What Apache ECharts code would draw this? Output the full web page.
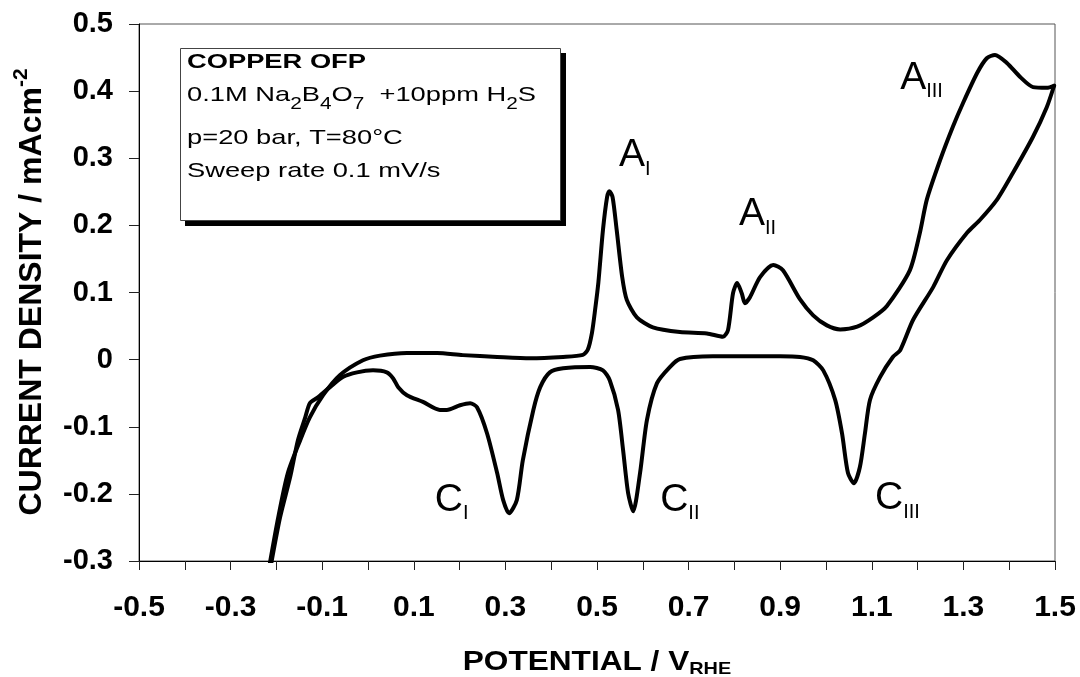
<!DOCTYPE html>
<html>
<head>
<meta charset="utf-8">
<script src="https://cdn.jsdelivr.net/npm/echarts@6/dist/echarts.min.js"></script>
<style>
  html, body { margin: 0; padding: 0; background: #fff; }
  #chart { width: 1080px; height: 677px; }
</style>
</head>
<body>
<div id="chart"></div>
<script>
// Cyclic voltammogram of OFP copper: potential (V vs RHE) and current density (mA/cm²)
// Forward (anodic) sweep
const anodicPotential = [-0.216, -0.196, -0.175, -0.148, -0.127, -0.098, -0.061, -0.011, 0.026, 0.085,
  0.151, 0.207, 0.282, 0.354, 0.426, 0.469, 0.480, 0.489, 0.496, 0.503,
  0.513, 0.522, 0.527, 0.534, 0.543, 0.555, 0.565, 0.587, 0.622, 0.681,
  0.740, 0.775, 0.786, 0.797, 0.806, 0.816, 0.823, 0.834, 0.856, 0.885,
  0.906, 0.943, 0.972, 1.002, 1.031, 1.068, 1.103, 1.133, 1.183, 1.205,
  1.220, 1.249, 1.277, 1.299, 1.330, 1.351, 1.369, 1.395, 1.424, 1.452,
  1.482, 1.498];
const anodicCurrent = [-0.31, -0.235, -0.169, -0.120, -0.086, -0.053, -0.023, -0.001, 0.006, 0.010,
  0.0097, 0.0067, 0.004, 0.002, 0.004, 0.007, 0.015, 0.040, 0.075, 0.115,
  0.193, 0.242, 0.251, 0.242, 0.193, 0.123, 0.089, 0.063, 0.048, 0.041,
  0.039, 0.034, 0.044, 0.099, 0.114, 0.099, 0.084, 0.093, 0.123, 0.141,
  0.133, 0.090, 0.066, 0.051, 0.045, 0.049, 0.063, 0.080, 0.133, 0.189,
  0.238, 0.297, 0.347, 0.382, 0.427, 0.449, 0.454, 0.442, 0.421, 0.406,
  0.405, 0.408];

// Reverse (cathodic) sweep
const cathodicPotential = [1.498, 1.482, 1.452, 1.408, 1.373, 1.336, 1.308, 1.264, 1.234, 1.190,
  1.162, 1.146, 1.118, 1.096, 1.085, 1.074, 1.061, 1.048, 1.035, 1.020,
  0.994, 0.972, 0.943, 0.900, 0.753, 0.681, 0.659, 0.631, 0.609, 0.594,
  0.579, 0.568, 0.557, 0.546, 0.528, 0.513, 0.485, 0.426, 0.397, 0.376,
  0.361, 0.338, 0.325, 0.308, 0.295, 0.282, 0.260, 0.238, 0.223, 0.201,
  0.172, 0.157, 0.120, 0.085, 0.066, 0.055, 0.041, 0.011, -0.024, -0.055,
  -0.083, -0.111, -0.127, -0.137, -0.153, -0.170, -0.192, -0.213];
const cathodicCurrent = [0.408, 0.376, 0.332, 0.278, 0.238, 0.208, 0.189, 0.148, 0.108, 0.059,
  0.014, 0.004, -0.026, -0.060, -0.110, -0.160, -0.184, -0.169, -0.110, -0.060,
  -0.016, -0.001, 0.004, 0.005, 0.005, 0.001, -0.011, -0.035, -0.090, -0.169,
  -0.226, -0.199, -0.135, -0.075, -0.031, -0.016, -0.011, -0.013, -0.019, -0.041,
  -0.075, -0.150, -0.209, -0.229, -0.209, -0.169, -0.110, -0.071, -0.065, -0.068,
  -0.075, -0.075, -0.063, -0.053, -0.041, -0.028, -0.019, -0.016, -0.019, -0.026,
  -0.041, -0.057, -0.065, -0.086, -0.120, -0.175, -0.235, -0.31];

// Axis tick labels
const xTickLabels = ['-0.5', '-0.3', '-0.1', '0.1', '0.3', '0.5', '0.7', '0.9', '1.1', '1.3', '1.5'];
const yTickLabels = ['-0.3', '-0.2', '-0.1', '0', '0.1', '0.2', '0.3', '0.4', '0.5'];

// Peak annotations (letter, roman subscript, anchor in data units)
const peakLetters = ['A', 'A', 'A', 'C', 'C', 'C'];
const peakIndices = ['I', 'II', 'III', 'I', 'II', 'III'];
const peakLabelPotential = [0.548, 0.810, 1.162, 0.146, 0.638, 1.107];
const peakLabelCurrent = [0.284, 0.196, 0.399, -0.229, -0.229, -0.227];

// Experimental conditions shown in the inset box ([text, style]: 'bold', 1 = subscript, 0 = plain)
const conditionLines = [
  [['COPPER OFP', 'bold']],
  [['0.1M Na', 0], ['2', 1], ['B', 0], ['4', 1], ['O', 0], ['7', 1], ['  +10ppm H', 0], ['2', 1], ['S', 0]],
  [['p=20 bar, T=80°C', 0]],
  [['Sweep rate 0.1 mV/s', 0]]
];

const FONT = 'Arial, "Liberation Sans", sans-serif';
const measureCtx = document.createElement('canvas').getContext('2d');
function measure(text, size, weight) {
  measureCtx.font = weight + ' ' + size + 'px ' + FONT;
  return measureCtx.measureText(text).width;
}
// Lay out a run of text fragments left to right; y = 0 is the baseline of the run
function textRun(parts, z) {
  let x = 0;
  const children = [];
  parts.forEach(p => {
    const weight = p.weight || 'normal';
    children.push({
      type: 'text',
      x: x,
      y: (p.dy || 0) - 0.3465 * p.size,
      z: z || 20,
      style: {
        text: p.text, fontSize: p.size, fontWeight: weight, fontFamily: FONT, fill: '#000',
        align: 'left', verticalAlign: 'middle', textAlign: 'left', textVerticalAlign: 'middle'
      }
    });
    x += measure(p.text, p.size, weight);
  });
  return { children, width: x };
}

const zip = (xs, ys) => xs.map((v, i) => [v, ys[i]]);
const fmt = v => { const r = Math.round(v * 10) / 10; return r === 0 ? '0' : r.toFixed(1); };

const chart = echarts.init(document.getElementById('chart'), null, { renderer: 'canvas' });

const curveStyle = { color: '#000', width: 4, join: 'round', cap: 'round' };
const option = {
  animation: false,
  backgroundColor: '#fff',
  grid: { left: 139, right: 25, top: 24, bottom: 116, show: true, borderColor: '#555', borderWidth: 1 },
  xAxis: {
    type: 'value', min: -0.5, max: 1.5, interval: 0.1,
    axisLine: { show: true, onZero: false, lineStyle: { color: '#000', width: 1 } },
    axisTick: { show: true, inside: false, length: 9, lineStyle: { color: '#222', width: 1 } },
    splitLine: { show: false },
    axisLabel: {
      margin: 32, fontSize: 30, fontWeight: 'bold', fontFamily: FONT, color: '#000',
      formatter: v => { const s = fmt(v); return xTickLabels.includes(s) ? s : ''; }
    }
  },
  yAxis: {
    type: 'value', min: -0.3, max: 0.5, interval: 0.1,
    axisLine: { show: true, onZero: false, lineStyle: { color: '#000', width: 1 } },
    axisTick: { show: true, inside: false, length: 10, lineStyle: { color: '#222', width: 1 } },
    splitLine: { show: false },
    axisLabel: {
      margin: 26, fontSize: 29, fontWeight: 'bold', fontFamily: FONT, color: '#000',
      formatter: v => { const s = fmt(v); return yTickLabels.includes(s) ? s : ''; }
    }
  },
  series: [
    { name: 'Anodic sweep', type: 'line', data: zip(anodicPotential, anodicCurrent),
      showSymbol: false, smooth: 0.25, lineStyle: curveStyle, clip: true },
    { name: 'Cathodic sweep', type: 'line', data: zip(cathodicPotential, cathodicCurrent),
      showSymbol: false, smooth: 0.25, lineStyle: curveStyle, clip: true }
  ]
};
chart.setOption(option);

const graphics = [];

// Inset box with drop shadow
graphics.push({ type: 'rect', z: 10, shape: { x: 185, y: 53, width: 381, height: 173 }, style: { fill: '#000' } });
graphics.push({ type: 'rect', z: 11, shape: { x: 180.5, y: 48.5, width: 380, height: 172 },
  style: { fill: '#fff', stroke: '#444', lineWidth: 1 } });
const lineBaselines = [69, 102, 145, 178];
conditionLines.forEach((line, li) => {
  const parts = line.map(([t, flag]) => flag === 'bold'
    ? { text: t, size: 21, weight: 'bold' }
    : flag ? { text: t, size: 16, dy: 8 } : { text: t, size: 21 });
  const run = textRun(parts, 30);
  graphics.push({ type: 'group', x: 187, y: lineBaselines[li], scaleX: 1.3, children: run.children });
});

// Peak labels placed through the axes' scales
peakLetters.forEach((letter, i) => {
  const pt = chart.convertToPixel({ gridIndex: 0 }, [peakLabelPotential[i], peakLabelCurrent[i]]);
  const run = textRun([{ text: letter, size: 39 }, { text: peakIndices[i], size: 20, dy: 7 }]);
  graphics.push({ type: 'group', x: pt[0], y: pt[1], children: run.children });
});

// X axis title
{
  const run = textRun([{ text: 'POTENTIAL / V', size: 27, weight: 'bold' }, { text: 'RHE', size: 17, weight: 'bold', dy: 3 }]);
  const sx = 1.17;
  graphics.push({ type: 'group', x: 597 - run.width * sx / 2, y: 672, scaleX: sx, children: run.children });
}
// Y axis title, reading bottom to top
{
  const run = textRun([{ text: 'CURRENT DENSITY / mAcm', size: 32, weight: 'bold' }, { text: '-2', size: 21, weight: 'bold', dy: -15 }]);
  graphics.push({ type: 'group', x: 43, y: 292 + run.width / 2, rotation: Math.PI / 2, children: run.children });
}

chart.setOption({ graphic: graphics });
</script>
</body>
</html>
